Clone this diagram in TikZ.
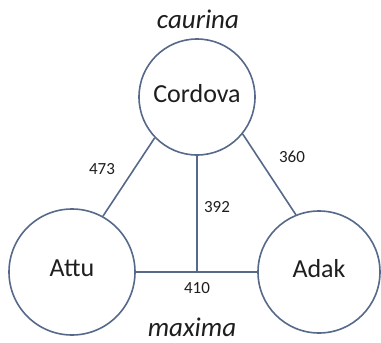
\documentclass[tikz,border=0pt]{standalone}
\usepackage{fontspec}
\setmainfont{Carlito}
\definecolor{edgeblue}{HTML}{56698A}
\definecolor{txt}{HTML}{1E1E1E}
\begin{document}
\begin{tikzpicture}[x=1pt,y=-1pt,
  island/.style={circle,draw=edgeblue,line width=1.6pt,fill=white,inner sep=0pt,text depth=8pt,text=txt,font=\fontsize{26}{30}\selectfont},
  link/.style={draw=edgeblue,line width=1.6pt},
  dist/.style={text=txt,font=\fontsize{17}{20}\selectfont,inner sep=0pt},
  taxon/.style={text=txt,font=\fontsize{27}{32}\selectfont\itshape,inner sep=0pt}]
\useasboundingbox[fill=white] (0,0) rectangle (381,343);
\node[island,minimum size=116pt] (cor) at (197,97) {Cordova};
\node[island,minimum size=126pt] (att) at (72,272) {Attu};
\node[island,minimum size=122pt] (ada) at (319,272) {Adak};
\coordinate (mid) at (cor.south |- att.east);
\draw[link] (att.61) -- (cor.-136);
\draw[link] (ada.112) -- (cor.-39);
\draw[link] (att.east) -- (ada.west);
\draw[link] (cor.south) -- (mid);
\node[dist] (d473) at (102,169) {473};
\node[dist] (d360) at (292,157) {360};
\node[dist] (d392) at (217,207) {392};
\node[dist] (d410) at (197,288) {410};
\node[taxon] (cau) at (198,19) {caurina};
\node[taxon] (max) at (192,327) {maxima};
\end{tikzpicture}
\end{document}
